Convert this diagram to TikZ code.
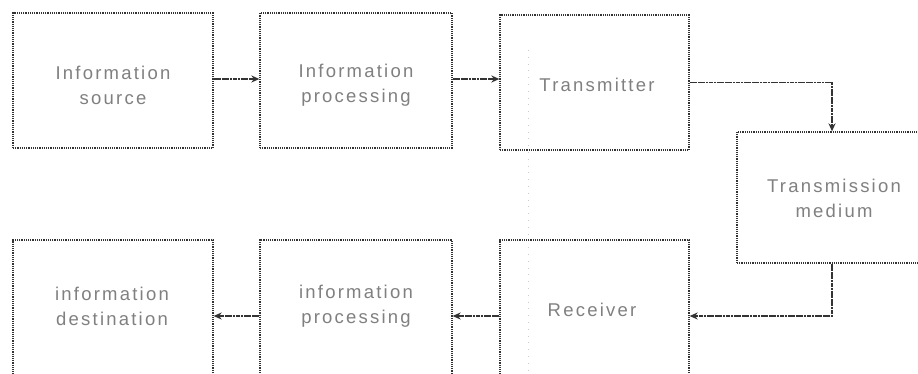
\documentclass[tikz,border=0pt]{standalone}
\usepackage{fontspec}
\newfontfamily\lbl{Liberation Sans}[LetterSpace=12]
\usetikzlibrary{arrows.meta}
\begin{document}
\begin{tikzpicture}[x=1pt,y=-1pt,
  blk/.style={draw=black!80, line width=1.3pt, dash pattern=on 1.2pt off 1pt,
    rectangle, inner sep=0pt},
  txt/.style={align=center, text=black!50, inner sep=0pt,
    font=\lbl\fontsize{18.5pt}{25pt}\selectfont},
  arr/.style={draw=black!80, line width=1.8pt, dash pattern=on 2.2pt off 0.5pt,
    -{Stealth[length=8pt,width=7pt]}},
  artifact/.style={draw=black!20, line width=0.6pt, dash pattern=on 0.8pt off 6pt}]
\useasboundingbox (0,0) rectangle (918,374);
\fill[white] (0,0) rectangle (918,374);
\clip (0,0) rectangle (918,374);
% faint scan line
\coordinate (fa) at (528,50);
\coordinate (fb) at (528,374);
\draw[artifact] (fa) -- (fb);
% boxes
\node[blk, minimum width=200pt, minimum height=135pt] (src)   at (113,80.5) {};
\node[blk, minimum width=192pt, minimum height=135pt] (proc1) at (356,80.5) {};
\node[blk, minimum width=189pt, minimum height=135pt] (tx)    at (594.5,82.5) {};
\node[blk, minimum width=193pt, minimum height=131pt] (med)   at (833.5,197.5) {};
\node[blk, minimum width=189pt, minimum height=142pt] (rx)    at (594.5,311) {};
\node[blk, minimum width=200pt, minimum height=142pt] (dst)   at (113,311) {};
\node[blk, minimum width=192pt, minimum height=142pt] (proc2) at (356,311) {};
% texts
\node[txt] (srct)   at (113,85)  {Information\\source};
\node[txt] (proc1t) at (356,85)  {Information\\processing};
\node[txt] (txt)    at (597,85)  {Transmitter};
\node[txt] (medt)   at (834,198) {Transmission\\medium};
\node[txt] (rxt)    at (592,310) {Receiver};
\node[txt] (dstt)   at (112,306) {information\\destination};
\node[txt] (proc2t) at (356,306) {information\\processing};
% connectors
\draw[arr] ([yshift=1.5pt]src.east) -- ([yshift=1.5pt]src.east -| proc1.west);
\draw[arr] ([yshift=1.5pt]proc1.east) -- ([yshift=1.5pt]proc1.east -| tx.west);
\draw[arr] (tx.east) -| ([xshift=-1.5pt]med.north);
\draw[arr] ([xshift=-1.5pt]med.south) |- ([yshift=-5pt]rx.east);
\draw[arr] ([yshift=-5pt]rx.west) -- ([yshift=-5pt]proc2.east);
\draw[arr] ([yshift=-5pt]proc2.west) -- ([yshift=-5pt]dst.east);
\end{tikzpicture}
\end{document}
